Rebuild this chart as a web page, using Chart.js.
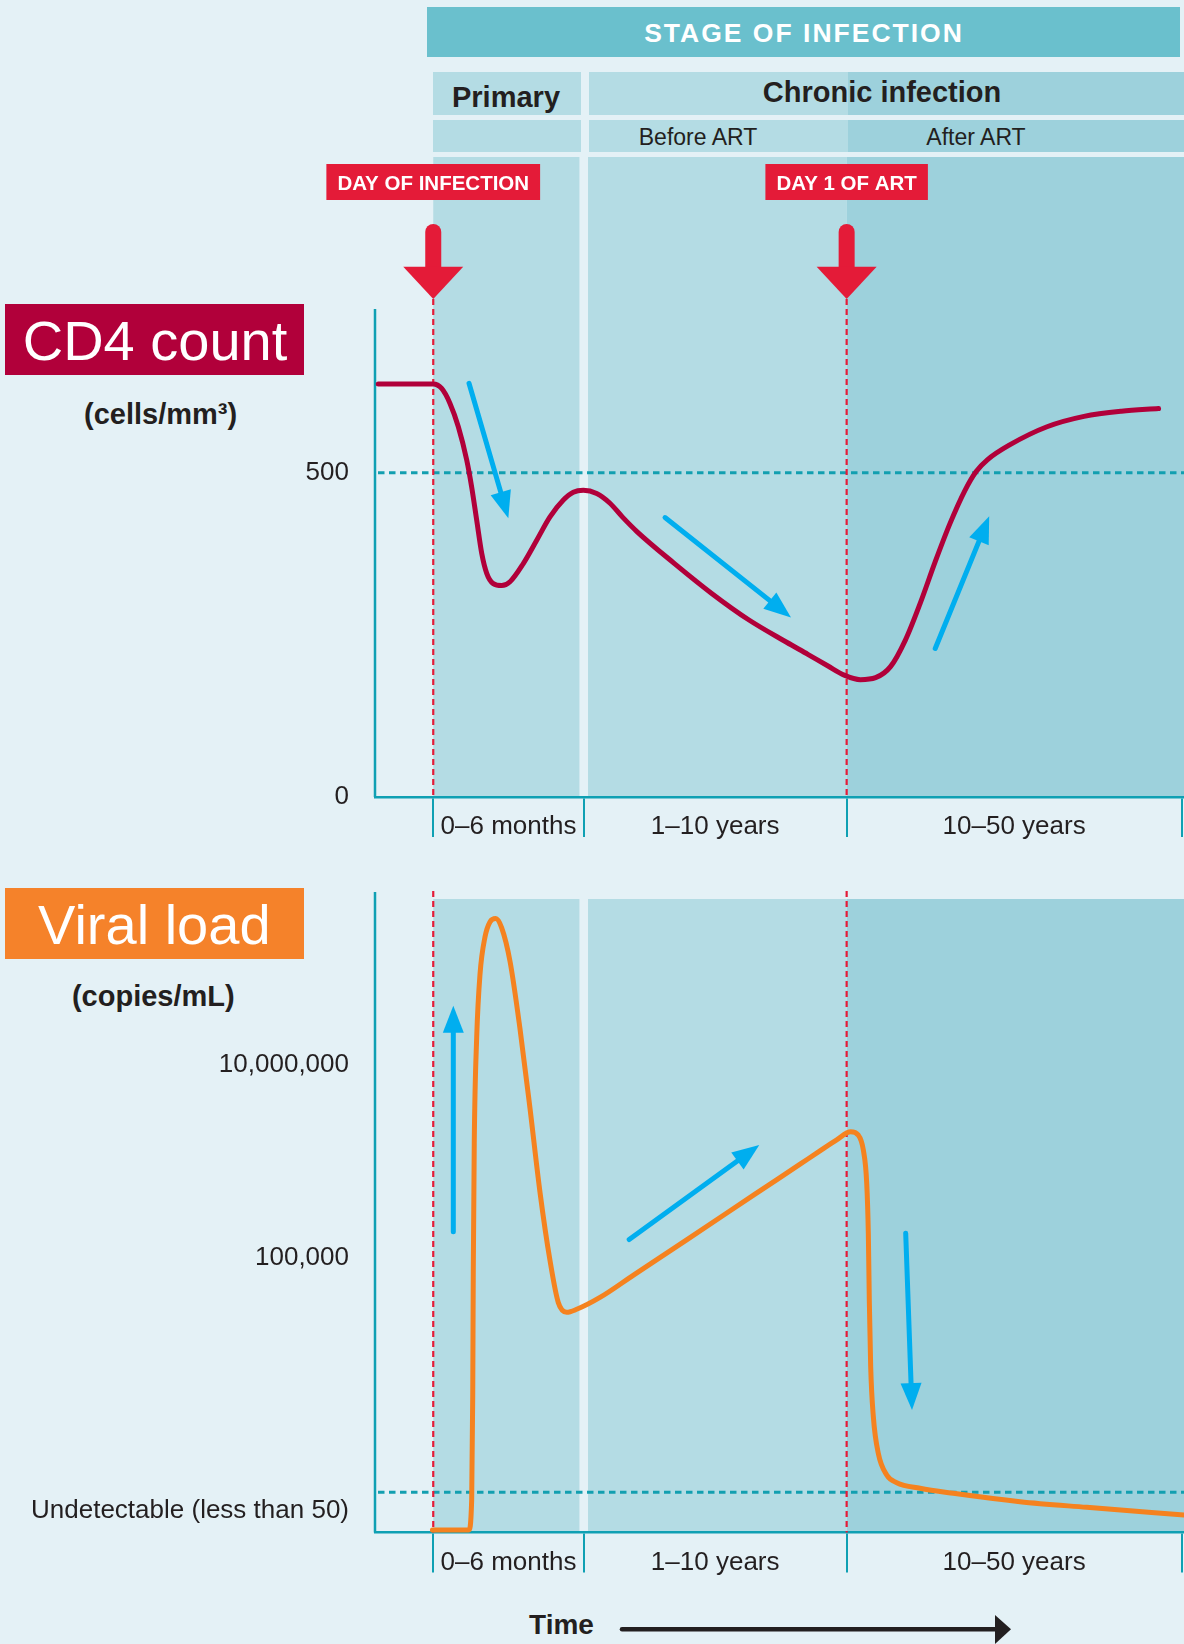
<!DOCTYPE html>
<html lang="en">
<head>
<meta charset="utf-8">
<title>CD4 count and viral load through the stages of HIV infection</title>
<script src="https://cdn.jsdelivr.net/npm/chart.js@4.4.1/dist/chart.umd.min.js"></script>
<style>
  body { margin: 0; background: #e4f1f6; }
  #page {
    position: relative; width: 1184px; height: 1644px; overflow: hidden;
    font-family: "Liberation Sans", Arial, Helvetica, sans-serif; color: #231f20;
  }
  #page > div, #page > canvas, #page > svg { position: absolute; }
  .band { background: #6ac0cd; }
  .cell { background: #b4dce4; }
  .chronic { background: linear-gradient(to right, #b4dce4 259px, #9dd1dc 259px); }
  .txt { white-space: nowrap; line-height: 1; transform: translateX(-50%); }
  .bold { font-weight: bold; }
  .white { color: #fff; }
</style>
</head>
<body>
<div id="page">
  <div class="band" style="left:427px;top:7px;width:753px;height:50px"></div>
  <div class="txt bold white" style="left:804px;top:20px;font-size:26.5px;letter-spacing:2px">STAGE OF INFECTION</div>

  <div class="cell" style="left:433px;top:72px;width:148px;height:43px"></div>
  <div class="cell chronic" style="left:589px;top:72px;width:595px;height:43px"></div>
  <div class="cell" style="left:433px;top:120px;width:148px;height:32px"></div>
  <div class="cell chronic" style="left:589px;top:120px;width:595px;height:32px"></div>
  <div class="txt bold" style="left:506px;top:82.5px;font-size:29px">Primary</div>
  <div class="txt bold" style="left:882px;top:77.8px;font-size:29px">Chronic infection</div>
  <div class="txt" style="left:698px;top:125.5px;font-size:23px">Before ART</div>
  <div class="txt" style="left:976px;top:125.5px;font-size:23px">After ART</div>

  <div style="left:5px;top:304px;width:299px;height:71px;background:#b1003a"></div>
  <div class="txt white" style="left:155px;top:312.6px;font-size:56px">CD4 count</div>
  <div class="txt bold" style="left:160.6px;top:399.5px;font-size:29px">(cells/mm³)</div>

  <div style="left:5px;top:888px;width:299px;height:71px;background:#f5822a"></div>
  <div class="txt white" style="left:154.3px;top:896.6px;font-size:56px">Viral load</div>
  <div class="txt bold" style="left:153.3px;top:981.5px;font-size:29px">(copies/mL)</div>

  <canvas id="cd4Chart" width="1184" height="740" style="left:0;top:110px"></canvas>
  <canvas id="viralChart" width="1184" height="750" style="left:0;top:850px"></canvas>

  <div class="txt bold" style="left:561.5px;top:1611.3px;font-size:28px">Time</div>
  <svg width="400" height="34" style="left:615px;top:1610px">
    <line x1="7" y1="19.3" x2="384" y2="19.3" stroke="#231f20" stroke-width="4.5" stroke-linecap="round"/>
    <polygon points="380,5 396,19.3 380,34" fill="#231f20"/>
  </svg>
</div>

<script>
// time axis is schematic: 0..100 across the plot, not real months/years
const stageBoundaries = [7.2, 25.8, 58.3, 99.7];
const periodLabels = ["0–6 months", "1–10 years", "10–50 years"];
const eventTimes = [7.2, 58.3];
const eventLabels = ["DAY OF INFECTION", "DAY 1 OF ART"];

const cd4Time = [0.4, 7.2, 8.24, 9.27, 10.3, 11.33, 11.95, 12.57, 13.19, 13.81,
  14.62, 15.66, 16.69, 18.33, 19.99, 21.63, 23.28, 24.51, 25.75, 27.4,
  29.05, 30.57, 32.41, 37.02, 41.62, 46.23, 50.83, 53.5, 56.0, 58.0,
  60.0, 61.88, 63.72, 65.56, 67.4, 69.25, 71.08, 72.93, 74.31, 75.69,
  78.45, 83.07, 87.64, 92.26, 96.86];
const cd4Count = [637, 637, 630, 607, 571, 520, 478, 427, 376, 345,
  329, 326, 332, 360, 396, 432, 458, 470, 473, 468,
  453, 432, 409, 360, 314, 273, 239, 220, 202, 188,
  181, 184, 201, 242, 299, 363, 422, 473, 502, 520,
  543, 571, 587, 595, 599];
const cd4Ticks = [0, 500];
const cd4Threshold = 500;

const viralTime = [7.1, 11.6, 11.95, 12.08, 12.15, 12.27, 12.57, 12.98, 13.6, 14.21,
  14.92, 15.66, 16.69, 17.92, 19.16, 20.4, 21.63, 22.66, 23.7, 24.93,
  27.81, 32.0, 38.57, 46.97, 52.5, 55.0, 57.07, 58.8, 59.74, 60.36,
  60.78, 60.98, 61.1, 61.27, 61.6, 62.21, 63.25, 64.49, 67.37, 71.48,
  79.73, 87.97, 100];
const viralLoad = [150, 150, 305, 3700, 76000, 1550000, 19000000, 86000000, 210000000, 300000000,
  325000000, 260000000, 117000000, 23500000, 3500000, 470000, 93000, 34000, 27000, 29000,
  38500, 66000, 153000, 452000, 920000, 1270000, 1650000, 2000000, 1850000, 1300000,
  590000, 178000, 36000, 7400, 2230, 933, 556, 463, 405, 359,
  294, 257, 214];
const viralTicks = [234, 100000, 10000000];
const viralTickLabels = ["Undetectable (less than 50)", "100,000", "10,000,000"];
const undetectableLine = 368;

// trend arrows: [fromTime, fromValue, toTime, toValue]
const cd4Trends = [[11.62, 638, 16.48, 430], [35.85, 431, 51.42, 277], [69.25, 229, 75.92, 433]];
const viralTrends = [[9.68, 185000, 9.68, 40600000], [31.42, 153000, 47.5, 1460000], [65.6, 178000, 66.38, 2620]];

const FONT = '"Liberation Sans", Arial, Helvetica, sans-serif';
const TEXT = "#231f20";
const BAND_LIGHT = "#b4dce4";
const BAND_DARK = "#9dd1dc";
const AXIS_TEAL = "#0fa0b3";
const DOT_TEAL = "#129fb0";
const EVENT_RED = "#e41b38";
const TREND_BLUE = "#00aeef";
const COLUMN_GAP = 4.3;

Chart.defaults.font.family = FONT;
Chart.defaults.color = TEXT;

function drawArrow(ctx, x1, y1, x2, y2) {
  const len = Math.hypot(x2 - x1, y2 - y1);
  const ux = (x2 - x1) / len;
  const uy = (y2 - y1) / len;
  const head = 27;
  const half = 10.5;
  const bx = x2 - ux * head;
  const by = y2 - uy * head;
  ctx.beginPath();
  ctx.moveTo(x1, y1);
  ctx.lineTo(bx + ux * 2, by + uy * 2);
  ctx.stroke();
  ctx.beginPath();
  ctx.moveTo(x2, y2);
  ctx.lineTo(bx - uy * half, by + ux * half);
  ctx.lineTo(bx + uy * half, by - ux * half);
  ctx.closePath();
  ctx.fill();
}

function makeStagePlugin(cfg) {
  return {
    id: "stages",
    beforeDraw(chart) {
      const { ctx, chartArea: a, scales: { x } } = chart;
      const [b0, b1, b2] = stageBoundaries.map((v) => x.getPixelForValue(v));
      const h = a.bottom - a.top;
      ctx.save();
      ctx.fillStyle = BAND_LIGHT;
      ctx.fillRect(b0, a.top, b1 - COLUMN_GAP - b0, h);
      ctx.fillRect(b1 + COLUMN_GAP, a.top, b2 - b1 - COLUMN_GAP, h);
      ctx.fillStyle = BAND_DARK;
      ctx.fillRect(b2, a.top, a.right - b2, h);
      ctx.restore();
    },
    beforeDatasetsDraw(chart) {
      const { ctx, chartArea: a, scales: { x, y } } = chart;
      ctx.save();
      ctx.strokeStyle = AXIS_TEAL;
      ctx.lineWidth = 2.5;
      ctx.beginPath();
      ctx.moveTo(a.left, a.top + cfg.axisTop);
      ctx.lineTo(a.left, a.bottom);
      ctx.stroke();

      const ty = y.getPixelForValue(cfg.threshold);
      ctx.setLineDash([6.5, 4.5]);
      ctx.lineWidth = 3;
      ctx.strokeStyle = DOT_TEAL;
      ctx.beginPath();
      ctx.moveTo(a.left + 3, ty);
      ctx.lineTo(a.right, ty);
      ctx.stroke();

      ctx.setLineDash([6, 4]);
      ctx.lineWidth = 2.2;
      ctx.strokeStyle = EVENT_RED;
      eventTimes.forEach((t) => {
        const px = x.getPixelForValue(t);
        ctx.beginPath();
        ctx.moveTo(px, a.top + cfg.eventTop);
        ctx.lineTo(px, a.bottom);
        ctx.stroke();
      });
      ctx.restore();
    },
    afterDatasetsDraw(chart) {
      const { ctx, scales: { x, y } } = chart;
      ctx.save();
      ctx.strokeStyle = TREND_BLUE;
      ctx.fillStyle = TREND_BLUE;
      ctx.lineWidth = 5;
      ctx.lineCap = "round";
      cfg.trends.forEach(([t1, v1, t2, v2]) => {
        drawArrow(ctx, x.getPixelForValue(t1), y.getPixelForValue(v1),
          x.getPixelForValue(t2), y.getPixelForValue(v2));
      });
      ctx.restore();
    },
    afterDraw(chart) {
      const { ctx, chartArea: a, scales: { x } } = chart;
      ctx.save();
      ctx.font = "26px " + FONT;
      ctx.fillStyle = TEXT;
      ctx.textAlign = "center";
      ctx.textBaseline = "middle";
      periodLabels.forEach((label, i) => {
        const mid = (stageBoundaries[i] + stageBoundaries[i + 1]) / 2;
        ctx.fillText(label, x.getPixelForValue(mid), a.bottom + 30);
      });

      if (cfg.markers) {
        eventTimes.forEach((t, i) => {
          const px = x.getPixelForValue(t);
          ctx.font = "bold 20.5px " + FONT;
          const w = ctx.measureText(eventLabels[i]).width + 22;
          ctx.fillStyle = EVENT_RED;
          ctx.fillRect(px - w / 2, a.top + 7, w, 36);
          ctx.fillStyle = "#fff";
          ctx.textBaseline = "alphabetic";
          ctx.fillText(eventLabels[i], px, a.top + 33);

          ctx.fillStyle = EVENT_RED;
          ctx.beginPath();
          ctx.moveTo(px - 8, a.top + 111);
          ctx.lineTo(px - 8, a.top + 75);
          ctx.arc(px, a.top + 75, 8, Math.PI, 0);
          ctx.lineTo(px + 8, a.top + 111);
          ctx.closePath();
          ctx.fill();
          ctx.beginPath();
          ctx.moveTo(px - 30, a.top + 109.7);
          ctx.lineTo(px + 30, a.top + 109.7);
          ctx.lineTo(px, a.top + 142);
          ctx.closePath();
          ctx.fill();
        });
      }
      ctx.restore();
    },
  };
}

function timeAxis(height) {
  return {
    type: "linear",
    min: 0,
    max: 100,
    bounds: "data",
    afterFit: (scale) => { scale.height = height; },
    afterBuildTicks: (scale) => { scale.ticks = stageBoundaries.map((v) => ({ value: v })); },
    ticks: { display: false },
    grid: { display: true, drawOnChartArea: false, drawTicks: true, tickLength: 40, color: AXIS_TEAL, lineWidth: 2 },
    border: { display: true, color: AXIS_TEAL, width: 2.5 },
  };
}

function curve(times, values, color) {
  return {
    data: times.map((t, i) => ({ x: t, y: values[i] })),
    borderColor: color,
    borderWidth: 5,
    pointRadius: 0,
    cubicInterpolationMode: "monotone",
    borderCapStyle: "round",
    borderJoinStyle: "round",
    clip: false,
  };
}

const commonOptions = {
  responsive: false,
  animation: false,
  events: [],
  plugins: { legend: { display: false }, tooltip: { enabled: false } },
};

new Chart(document.getElementById("cd4Chart"), {
  type: "line",
  data: { datasets: [curve(cd4Time, cd4Count, "#b1003a")] },
  options: {
    ...commonOptions,
    layout: { padding: { top: 47, left: 0, right: 0, bottom: 0 } },
    scales: {
      x: timeAxis(53),
      y: {
        type: "linear",
        min: 0,
        max: 987,
        bounds: "data",
        afterFit: (scale) => { scale.width = 375; },
        afterBuildTicks: (scale) => { scale.ticks = cd4Ticks.map((v) => ({ value: v })); },
        ticks: { padding: 26, font: { size: 26 }, color: TEXT, callback: (v) => String(v) },
        grid: { display: false, drawTicks: false },
        border: { display: false },
      },
    },
  },
  plugins: [makeStagePlugin({ axisTop: 152, eventTop: 142, threshold: cd4Threshold, trends: cd4Trends, markers: true })],
});

new Chart(document.getElementById("viralChart"), {
  type: "line",
  data: { datasets: [curve(viralTime, viralLoad, "#f5821f")] },
  options: {
    ...commonOptions,
    layout: { padding: { top: 49, left: 0, right: 0, bottom: 0 } },
    scales: {
      x: timeAxis(67.5),
      y: {
        type: "logarithmic",
        min: 141,
        max: 518000000,
        bounds: "data",
        afterFit: (scale) => { scale.width = 375; },
        afterBuildTicks: (scale) => { scale.ticks = viralTicks.map((v) => ({ value: v })); },
        ticks: { padding: 26, font: { size: 26 }, color: TEXT, callback: (v, i) => viralTickLabels[i] },
        grid: { display: false, drawTicks: false },
        border: { display: false },
      },
    },
  },
  plugins: [makeStagePlugin({ axisTop: -7, eventTop: -8, threshold: undetectableLine, trends: viralTrends, markers: false })],
});
</script>
</body>
</html>
